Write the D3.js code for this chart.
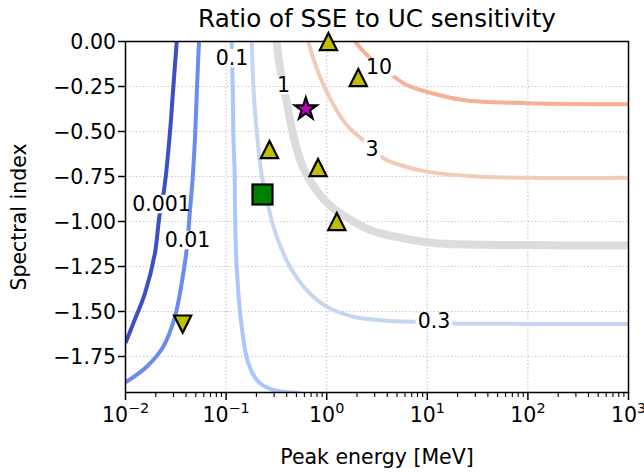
<!DOCTYPE html>
<html>
<head>
<meta charset="utf-8">
<script src="https://cdn.jsdelivr.net/npm/d3@7"></script>
<style>
  html, body { margin: 0; padding: 0; background: #fff; }
  svg { display: block; font-family: "DejaVu Sans", sans-serif; }
</style>
</head>
<body>
<svg id="chart" width="644" height="472"></svg>
<script>
// ---- data -------------------------------------------------------------
// contour levels (ratio of SSE to UC sensitivity)
const levelLabels = ["0.001", "0.01", "0.1", "0.3", "1", "3", "10"];

// contour traces: [peak energy (MeV), spectral index]
const contour0001 = [[0.0323, 0.0], [0.0299, -0.251], [0.0277, -0.501], [0.0251, -0.753],
  [0.0236, -0.864], [0.0217, -0.973], [0.0196, -1.177], [0.0156, -1.399],
  [0.01195, -1.566], [0.0100, -1.675]];
const contour001 = [[0.0538, 0.0], [0.0514, -0.251], [0.0494, -0.501], [0.0466, -0.753],
  [0.0438, -0.936], [0.0405, -1.158], [0.0362, -1.343], [0.0310, -1.529],
  [0.0237, -1.696], [0.01624, -1.807], [0.0100, -1.894]];
const contour01 = [[0.1137, 0.0], [0.1163, -0.251], [0.1179, -0.501], [0.1218, -0.753],
  [0.1226, -0.936], [0.1274, -1.251], [0.1429, -1.584], [0.1662, -1.788],
  [0.2089, -1.890], [0.2944, -1.936], [0.543, -1.953]];
const contour03 = [[0.1797, 0.0], [0.1864, -0.242], [0.2015, -0.501], [0.2259, -0.742],
  [0.2627, -0.918], [0.3184, -1.084], [0.4316, -1.251], [0.6327, -1.381],
  [1.0, -1.473], [1.838, -1.529], [3.95, -1.551], [7.85, -1.558], [16.8, -1.566],
  [100, -1.569], [1000, -1.569]];
const contour1 = [[0.318, 0.0], [0.3434, -0.147], [0.4003, -0.334], [0.4656, -0.519],
  [0.5853, -0.704], [0.858, -0.853], [1.163, -0.927], [1.356, -0.954],
  [2.694, -1.047], [5.77, -1.093], [12.4, -1.121], [100, -1.131], [1000, -1.134]];
const contour3 = [[0.656, 0.0], [0.7955, -0.149], [1.079, -0.316], [1.580, -0.464],
  [2.403, -0.557], [3.652, -0.649], [5.354, -0.686], [9.86, -0.723],
  [33.4, -0.751], [1000, -0.757]];
const contour10 = [[1.911, 0.0], [2.349, -0.058], [3.236, -0.131], [4.428, -0.186],
  [6.24, -0.242], [9.86, -0.279], [22.8, -0.325], [100, -0.343], [1000, -0.349]];
const contours = [contour0001, contour001, contour01, contour03, contour1, contour3, contour10];

// inline label anchors for each contour: [peak energy (MeV), spectral index]
const labelAnchors = [[0.0228, -0.903], [0.0413, -1.103], [0.1145, -0.092], [11.66, -1.553],
  [0.372, -0.242], [2.82, -0.597], [3.31, -0.142]];

// sources: [peak energy (MeV), spectral index]
const upTriangles = [[1.04, 0.0], [2.06, -0.20], [0.27, -0.60], [0.82, -0.70], [1.26, -1.00]];
const downTriangles = [[0.037, -1.57]];
const stars = [[0.62, -0.375]];
const squares = [[0.23, -0.85]];

// axis ticks
const xMajorTicks = [1e-2, 1e-1, 1e0, 1e1, 1e2, 1e3];
const xTickExponents = ["\u22122", "\u22121", "0", "1", "2", "3"];
const yTicks = [0.0, -0.25, -0.5, -0.75, -1.0, -1.25, -1.5, -1.75];

// ---- styling -----------------------------------------------------------
const levelColors = ["#3d4fc4", "#6a8bef", "#aac7fd", "#c6d6f2", "#dcdcdc", "#f2cbb7", "#f6b093"];
const levelWidths = [4, 4, 4, 4, 8, 4, 4];
const FS = 20.5;

// ---- layout ------------------------------------------------------------
const plot = { left: 125.5, right: 628.5, top: 41.5, bottom: 392.5 };
const svg = d3.select("#chart");

const x = d3.scaleLog().domain([1e-2, 1e3]).range([plot.left, plot.right]);
const y = d3.scaleLinear().domain([-1.95, 0]).range([plot.bottom, plot.top]);

const defs = svg.append("defs");
defs.append("clipPath").attr("id", "plot-clip")
  .append("rect")
  .attr("x", plot.left).attr("y", plot.top)
  .attr("width", plot.right - plot.left).attr("height", plot.bottom - plot.top);

// grid
const grid = svg.append("g").attr("class", "grid")
  .attr("stroke", "#c4c4c4").attr("stroke-width", 1.2).attr("stroke-dasharray", "1.3,2.2");
grid.selectAll("line.gx").data(xMajorTicks).join("line").attr("class", "gx")
  .attr("x1", d => x(d)).attr("x2", d => x(d))
  .attr("y1", plot.top).attr("y2", plot.bottom);
grid.selectAll("line.gy").data(yTicks).join("line").attr("class", "gy")
  .attr("x1", plot.left).attr("x2", plot.right)
  .attr("y1", d => y(d)).attr("y2", d => y(d));

// contour lines with inline labels
const line = d3.line().x(d => x(d[0])).y(d => y(d[1])).curve(d3.curveCatmullRom.alpha(0.5));
const contourLayer = svg.append("g").attr("class", "contours");
const labelLayer = svg.append("g").attr("class", "contour-labels")
  .attr("font-size", FS).attr("fill", "#000").attr("text-anchor", "middle");

contours.forEach((pts, i) => {
  const [ax, ay] = [x(labelAnchors[i][0]), y(labelAnchors[i][1])];
  const t = labelLayer.append("text")
    .attr("x", ax).attr("y", ay + 0.36 * FS)
    .text(levelLabels[i]);
  const w = t.node().getComputedTextLength() + 4;
  const h = FS * 0.9;
  const mask = defs.append("mask").attr("id", "gap-" + i)
    .attr("maskUnits", "userSpaceOnUse")
    .attr("x", 0).attr("y", 0).attr("width", 644).attr("height", 472);
  mask.append("rect").attr("x", 0).attr("y", 0).attr("width", 644).attr("height", 472).attr("fill", "#fff");
  mask.append("rect").attr("x", ax - w / 2).attr("y", ay - h / 2)
    .attr("width", w).attr("height", h).attr("fill", "#000");
  contourLayer.append("g").attr("clip-path", "url(#plot-clip)")
    .append("path")
    .attr("d", line(pts))
    .attr("fill", "none")
    .attr("stroke", levelColors[i])
    .attr("stroke-width", levelWidths[i])
    .attr("mask", "url(#gap-" + i + ")");
});
labelLayer.raise();

// axes frame
svg.append("rect")
  .attr("x", plot.left).attr("y", plot.top)
  .attr("width", plot.right - plot.left).attr("height", plot.bottom - plot.top)
  .attr("fill", "none").attr("stroke", "#000").attr("stroke-width", 1.5);

// x ticks
const xMinor = [];
for (let e = -2; e < 3; e++) for (let k = 2; k < 10; k++) xMinor.push(k * Math.pow(10, e));
const ticks = svg.append("g").attr("stroke", "#000");
ticks.selectAll("line.xmaj").data(xMajorTicks).join("line").attr("class", "xmaj")
  .attr("x1", d => x(d)).attr("x2", d => x(d))
  .attr("y1", plot.bottom).attr("y2", plot.bottom + 7.5).attr("stroke-width", 1.5);
ticks.selectAll("line.xmin").data(xMinor).join("line").attr("class", "xmin")
  .attr("x1", d => x(d)).attr("x2", d => x(d))
  .attr("y1", plot.bottom).attr("y2", plot.bottom + 4.5).attr("stroke-width", 1.1);
ticks.selectAll("line.ymaj").data(yTicks).join("line").attr("class", "ymaj")
  .attr("x1", plot.left - 7.5).attr("x2", plot.left)
  .attr("y1", d => y(d)).attr("y2", d => y(d)).attr("stroke-width", 1.5);

// x tick labels (powers of ten)
const xl = svg.append("g").attr("font-size", FS).attr("text-anchor", "middle");
xMajorTicks.forEach((v, i) => {
  const t = xl.append("text").attr("x", x(v)).attr("y", 422);
  t.append("tspan").text("10");
  t.append("tspan").attr("dy", -9).attr("font-size", FS * 0.7).text(xTickExponents[i]);
});

// y tick labels
svg.append("g").attr("font-size", FS).attr("text-anchor", "end")
  .selectAll("text").data(yTicks).join("text")
  .attr("x", plot.left - 9.5).attr("y", d => y(d) + 0.36 * FS)
  .text(d => d3.format(".2f")(d).replace("-", "\u2212"));

// axis titles
svg.append("text").attr("x", (plot.left + plot.right) / 2).attr("y", 464)
  .attr("text-anchor", "middle").attr("font-size", FS).text("Peak energy [MeV]");
svg.append("text")
  .attr("transform", `translate(26,${(plot.top + plot.bottom) / 2}) rotate(-90)`)
  .attr("text-anchor", "middle").attr("font-size", FS).text("Spectral index");
svg.append("text").attr("x", (plot.left + plot.right) / 2).attr("y", 27)
  .attr("text-anchor", "middle").attr("font-size", FS * 1.2).text("Ratio of SSE to UC sensitivity");

// source markers
const markers = svg.append("g").attr("stroke", "#000").attr("stroke-width", 2.2)
  .attr("stroke-linejoin", "miter");
const h = 8.6;
markers.selectAll("path.up").data(upTriangles).join("path").attr("class", "up")
  .attr("transform", d => `translate(${x(d[0])},${y(d[1])})`)
  .attr("d", `M0,${-h}L${-h},${h}L${h},${h}Z`).attr("fill", "#bfbf00");
markers.selectAll("path.down").data(downTriangles).join("path").attr("class", "down")
  .attr("transform", d => `translate(${x(d[0])},${y(d[1])})`)
  .attr("d", `M0,${h}L${-h},${-h}L${h},${-h}Z`).attr("fill", "#bfbf00");
const sq = 10;
markers.selectAll("rect.sq").data(squares).join("rect").attr("class", "sq")
  .attr("x", d => x(d[0]) - sq).attr("y", d => y(d[1]) - sq)
  .attr("width", 2 * sq).attr("height", 2 * sq).attr("fill", "#008000");
function starPath(r, ri) {
  const p = [];
  for (let k = 0; k < 10; k++) {
    const a = -Math.PI / 2 + k * Math.PI / 5;
    const rr = k % 2 === 0 ? r : ri;
    p.push([rr * Math.cos(a), rr * Math.sin(a)]);
  }
  return "M" + p.map(q => q[0].toFixed(2) + "," + q[1].toFixed(2)).join("L") + "Z";
}
markers.selectAll("path.star").data(stars).join("path").attr("class", "star")
  .attr("transform", d => `translate(${x(d[0])},${y(d[1])})`)
  .attr("d", starPath(11.5, 11.5 * 0.381966)).attr("fill", "#bf00bf");
</script>
</body>
</html>
